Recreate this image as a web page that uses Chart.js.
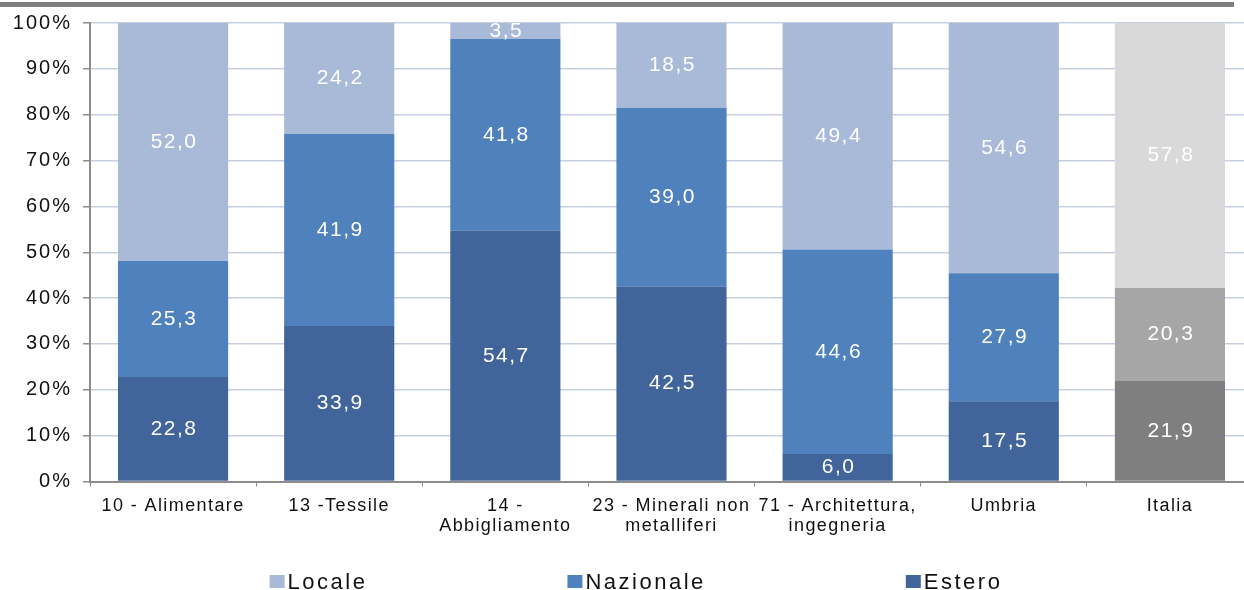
<!DOCTYPE html>
<html>
<head>
<meta charset="utf-8">
<script src="https://cdn.jsdelivr.net/npm/chart.js@4"></script>
<style>
  html, body { margin: 0; padding: 0; background: #fff; overflow: hidden; }
  #frame { width: 1244px; height: 590px; overflow: hidden; position: relative; }
  /* the plot runs a little past the right edge, as in the original */
  #wrap { width: 1253px; height: 590px; position: relative; }
</style>
</head>
<body>
<div id="frame"><div id="wrap"><canvas id="chart"></canvas></div></div>
<script>
// ========================
//    data
// ========================
const categories = [
  "10 - Alimentare",
  "13 -Tessile",
  ["14 -", "Abbigliamento"],
  ["23 - Minerali non", "metalliferi"],
  ["71 - Architettura,", "ingegneria"],
  "Umbria",
  "Italia"
];
const estero = [22.8, 33.9, 54.7, 42.5, 6.0, 17.5, 21.9];
const nazionale = [25.3, 41.9, 41.8, 39.0, 44.6, 27.9, 20.3];
const locale = [52.0, 24.2, 3.5, 18.5, 49.4, 54.6, 57.8];
const yTicks = [0, 10, 20, 30, 40, 50, 60, 70, 80, 90, 100];

const FONT = "'Liberation Sans', Arial, sans-serif";

// Italia bar is drawn in greys
const greyIndex = 6;
const colorBy = (blue, grey) => ctx => ctx.dataIndex === greyIndex ? grey : blue;

// the original text is drawn wide, so add some letter spacing per axis
const spaced = px => axis => {
  if (axis._spaced) return;
  const orig = axis.drawLabels;
  axis.drawLabels = function (area) {
    this.ctx.letterSpacing = px;
    orig.call(this, area);
    this.ctx.letterSpacing = "0px";
  };
  axis._spaced = true;
};

// value labels in the middle of each segment
const segmentLabels = {
  id: "segmentLabels",
  afterDatasetsDraw(chart) {
    const { ctx } = chart;
    ctx.save();
    ctx.font = "21px " + FONT;
    ctx.letterSpacing = "1.5px";
    ctx.fillStyle = "#ffffff";
    ctx.textAlign = "center";
    ctx.textBaseline = "middle";
    chart.data.datasets.forEach((ds, i) => {
      chart.getDatasetMeta(i).data.forEach((bar, j) => {
        const top = Math.max(bar.y, chart.chartArea.top);
        const mid = (top + bar.base) / 2;
        ctx.fillText(ds.data[j].toFixed(1).replace(".", ","), bar.x + 1, mid);
      });
    });
    ctx.letterSpacing = "0px";
    ctx.restore();
  }
};

// grey rule along the top + legend at the bottom
const decorations = {
  id: "decorations",
  beforeDraw(chart) {
    const { ctx } = chart;
    ctx.save();
    ctx.fillStyle = "#7f7f7f";
    ctx.fillRect(0, 2, 1234, 5);
    ctx.restore();
  },
  afterDraw(chart) {
    const { ctx } = chart;
    const items = chart.data.datasets.slice().reverse();
    ctx.save();
    ctx.font = "22px " + FONT;
    ctx.letterSpacing = "2.5px";
    ctx.textBaseline = "alphabetic";
    ctx.textAlign = "left";
    const box = 15, gap = 3, itemGap = 200;
    const widths = items.map(ds => box + gap + ctx.measureText(ds.label).width);
    const total = widths.reduce((a, b) => a + b, 0) + itemGap * (items.length - 1);
    let x = 636 - total / 2;
    items.forEach((ds, i) => {
      ctx.fillStyle = ds.legendColor;
      ctx.fillRect(x, 575, box, 13);
      ctx.fillStyle = "#111";
      ctx.fillText(ds.label, x + box + gap, 589);
      x += widths[i] + itemGap;
    });
    ctx.letterSpacing = "0px";
    ctx.restore();
  }
};

new Chart(document.getElementById("chart"), {
  type: "bar",
  data: {
    labels: categories,
    datasets: [
      { label: "Estero", data: estero, legendColor: "#41659b", backgroundColor: colorBy("#41659b", "#7f7f7f") },
      { label: "Nazionale", data: nazionale, legendColor: "#4f81bd", backgroundColor: colorBy("#4f81bd", "#a6a6a6") },
      { label: "Locale", data: locale, legendColor: "#a9b9d8", backgroundColor: colorBy("#a9b9d8", "#d9d9d9") }
    ]
  },
  options: {
    responsive: true,
    maintainAspectRatio: false,
    animation: false,
    datasets: { bar: { categoryPercentage: 1, barPercentage: 0.663 } },
    layout: { padding: { top: 22.5, right: 0, left: 0, bottom: 44.5 } },
    scales: {
      x: {
        stacked: true,
        afterFit: axis => { spaced("1.4px")(axis); axis.height = 64; },
        grid: { offset: true, drawOnChartArea: false, color: "#8c8c8c", tickLength: 5 },
        border: { color: "#8c8c8c", width: 2 },
        ticks: {
          color: "#111",
          font: { family: FONT, size: 18, lineHeight: 1.08 },
          maxRotation: 0,
          autoSkip: false,
          padding: 10
        }
      },
      y: {
        stacked: true,
        min: 0,
        max: 100,
        afterBuildTicks: axis => { axis.ticks = yTicks.map(v => ({ value: v })); },
        afterFit: axis => { spaced("2px")(axis); axis.width = 90; },
        grid: { color: "#c6cfe2", lineWidth: 1.5, tickColor: "#8c8c8c", tickLength: 7 },
        border: { color: "#8c8c8c", width: 2 },
        ticks: {
          color: "#111",
          font: { family: FONT, size: 20 },
          padding: 11,
          callback: v => v + "%"
        }
      }
    },
    plugins: {
      legend: { display: false },
      tooltip: { enabled: false }
    }
  },
  plugins: [segmentLabels, decorations]
});
</script>
</body>
</html>
